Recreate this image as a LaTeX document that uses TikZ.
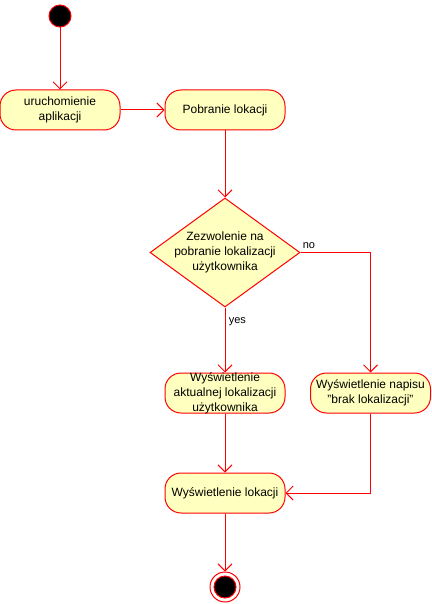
\documentclass[tikz,border=0pt]{standalone}
\usepackage{fontspec}
\setmainfont{Liberation Sans}
\usetikzlibrary{shapes.geometric}
\usetikzlibrary{arrows.meta}
\usepackage{xcolor}
\definecolor{actfill}{HTML}{FFFFC0}
\definecolor{actline}{HTML}{FF0000}

\tikzset{
	action/.style={draw=actline,fill=actfill,line width=1pt,rounded corners=16pt,minimum width=120pt,minimum height=40pt,inner sep=0pt,align=center,font=\fontsize{12}{15}\selectfont},
	decision/.style={diamond,draw=actline,fill=actfill,line width=1pt,minimum width=150pt,minimum height=109pt,inner sep=0pt},
	startnode/.style={circle,draw=actline,fill=black,line width=1pt,minimum size=22pt,inner sep=0pt},
	endnode/.style={circle,draw=actline,fill=white,line width=1pt,minimum size=30pt,inner sep=0pt},
	flow/.style={draw=actline,line width=1pt,-{Straight Barb[length=7pt,width=14pt]}},
	guard/.style={font=\fontsize{11}{13}\selectfont}
}

\begin{document}
\begin{tikzpicture}[x=1pt,y=-1pt]
\useasboundingbox (0,0) rectangle (431,604);

\node[startnode] (start) at (60,16) {};
\node[action] (launch) at (60,110) {uruchomienie\\aplikacji};
\node[action] (fetch) at (225,110) {Pobranie lokacji};
\node[decision] (perm) at (225,252.5) {};
\node[align=center,font=\fontsize{12}{15}\selectfont] (permtext) at (perm.center) {Zezwolenie na\\pobranie lokalizacji\\użytkownika};
\node[action] (current) at (225,393) {};
\node[align=center,font=\fontsize{12}{15}\selectfont] (currenttext) at (current.center) {Wyświetlenie\\aktualnej lokalizacji\\użytkownika};
\node[action] (nolocation) at (370.5,393) {Wyświetlenie napisu\\\symbol{34}brak lokalizacji\symbol{34}};
\node[action] (show) at (225,493) {Wyświetlenie lokacji};
\node[endnode] (end) at (225,587) {};
\filldraw[draw=actline,fill=black,line width=1pt] (end.center) circle (11pt);

% transitions
\draw[flow] (start) -- (launch);
\draw[flow] (launch) -- (fetch);
\draw[flow] (fetch) -- (perm);
\draw[flow] (perm.east) -| node[guard,pos=0.06,above] {no} (nolocation.north);
\draw[flow] (perm.south) -- node[guard,pos=0.22,right] {yes} (current.north);
\draw[flow] (current) -- (show);
\draw[flow] (nolocation.south) |- (show.east);
\draw[flow] (show) -- (end);

\end{tikzpicture}
\end{document}
